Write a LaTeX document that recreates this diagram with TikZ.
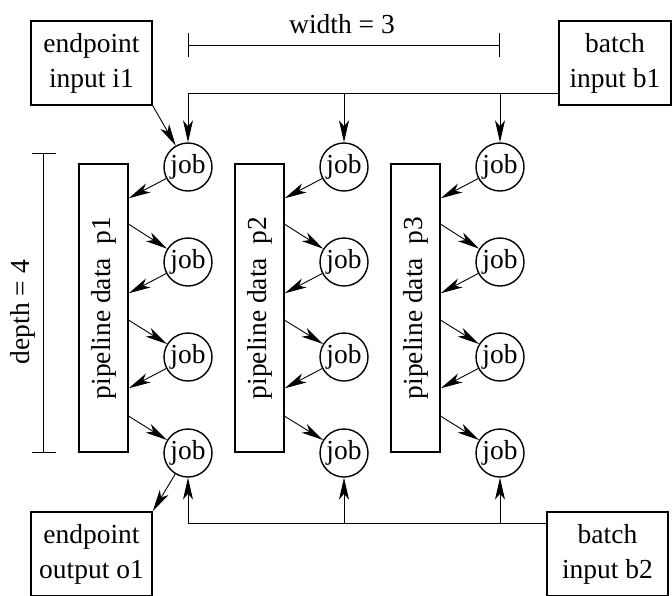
\documentclass[tikz,border=0pt]{standalone}
\usepackage{fontspec}
\setmainfont{Liberation Serif}
\usetikzlibrary{arrows.meta,positioning,calc}

\begin{document}
\begin{tikzpicture}[
  x=1pt,y=1pt,>={Stealth[length=22pt,width=10pt,inset=6pt]},
  every node/.style={font=\fontsize{27.5}{35}\selectfont},
  endbox/.style={draw,line width=1.5pt,minimum width=121pt,minimum height=84pt,align=center,inner sep=0pt},
  pipe/.style={draw,line width=1.5pt,minimum width=49pt,minimum height=288pt,inner sep=0pt},
  job/.style={draw,circle,line width=1.4pt,minimum size=48pt,inner sep=0pt},
  flow/.style={->,line width=0.9pt},
  bus/.style={line width=1pt},
  dim/.style={{Bar[width=24pt]}-{Bar[width=24pt]},line width=1pt}
]
  \useasboundingbox (0,0) rectangle (672,-595);

  % Endpoint and batch boxes
  \node[endbox] (i1) at (91.5,-63)  {endpoint\\input i1};
  \node[endbox,minimum width=112pt] (b1) at (615,-63) {batch\\input b1};
  \node[endbox] (o1) at (91.5,-554) {endpoint\\output o1};
  \node[endbox] (b2) at (607.5,-554) {batch\\input b2};

  % Pipeline data columns
  \node[pipe] (p1) at (103.5,-308) {\rotatebox{90}{pipeline data~~p1}};
  \node[pipe] (p2) at (259.5,-308) {\rotatebox{90}{pipeline data~~p2}};
  \node[pipe] (p3) at (415.5,-308) {\rotatebox{90}{pipeline data~~p3}};

  % Jobs (column, row)
  \node[job] (j11) at (188,-167) {job};
  \node[job] (j12) at (188,-262) {job};
  \node[job] (j13) at (188,-357) {job};
  \node[job] (j14) at (188,-453) {job};
  \node[job] (j21) at (344,-167) {job};
  \node[job] (j22) at (344,-262) {job};
  \node[job] (j23) at (344,-357) {job};
  \node[job] (j24) at (344,-453) {job};
  \node[job] (j31) at (500,-167) {job};
  \node[job] (j32) at (500,-262) {job};
  \node[job] (j33) at (500,-357) {job};
  \node[job] (j34) at (500,-453) {job};

  % Dimension marks
  \node (wlbl) at (342,-24) {width = 3};
  \coordinate (wl) at (188,-45);
  \coordinate (wr) at (500,-45);
  \draw[dim] (wl) -- (wr);
  \node (dlbl) at (23,-312) {\rotatebox{90}{depth = 4}};
  \coordinate (dt) at (43.5,-153);
  \coordinate (db) at (43.5,-453);
  \draw[dim] (dt) -- (db);

  % Inputs
  \draw[flow] (i1.south east) -- (j11);
  \coordinate (bus1) at ($(b1.south west)+(0,12)$);
  \draw[bus,->] (bus1) -| (j11);
  \draw[bus,->] (j21 |- bus1) -- (j21);
  \draw[bus,->] (j31 |- bus1) -- (j31);

  % Outputs and second batch
  \draw[flow] (j14) -- (o1.north east);
  \coordinate (bus2) at ($(b2.north west)+(0,-12)$);
  \draw[bus,->] (bus2) -| (j14);
  \draw[bus,->] (j24 |- bus2) -- (j24);
  \draw[bus,->] (j34 |- bus2) -- (j34);

  % Column 1: jobs <-> pipeline data
  \draw[flow] (j11) -- ($(p1.north east)+(0,-35)$);
  \draw[flow] ($(p1.north east)+(0,-61)$) -- (j12);
  \draw[flow] (j12) -- ($(p1.north east)+(0,-130)$);
  \draw[flow] ($(p1.north east)+(0,-157)$) -- (j13);
  \draw[flow] (j13) -- ($(p1.north east)+(0,-225)$);
  \draw[flow] ($(p1.north east)+(0,-253)$) -- (j14);

  % Column 2
  \draw[flow] (j21) -- ($(p2.north east)+(0,-35)$);
  \draw[flow] ($(p2.north east)+(0,-61)$) -- (j22);
  \draw[flow] (j22) -- ($(p2.north east)+(0,-130)$);
  \draw[flow] ($(p2.north east)+(0,-157)$) -- (j23);
  \draw[flow] (j23) -- ($(p2.north east)+(0,-225)$);
  \draw[flow] ($(p2.north east)+(0,-253)$) -- (j24);

  % Column 3
  \draw[flow] (j31) -- ($(p3.north east)+(0,-35)$);
  \draw[flow] ($(p3.north east)+(0,-61)$) -- (j32);
  \draw[flow] (j32) -- ($(p3.north east)+(0,-130)$);
  \draw[flow] ($(p3.north east)+(0,-157)$) -- (j33);
  \draw[flow] (j33) -- ($(p3.north east)+(0,-225)$);
  \draw[flow] ($(p3.north east)+(0,-253)$) -- (j34);
\end{tikzpicture}
\end{document}
